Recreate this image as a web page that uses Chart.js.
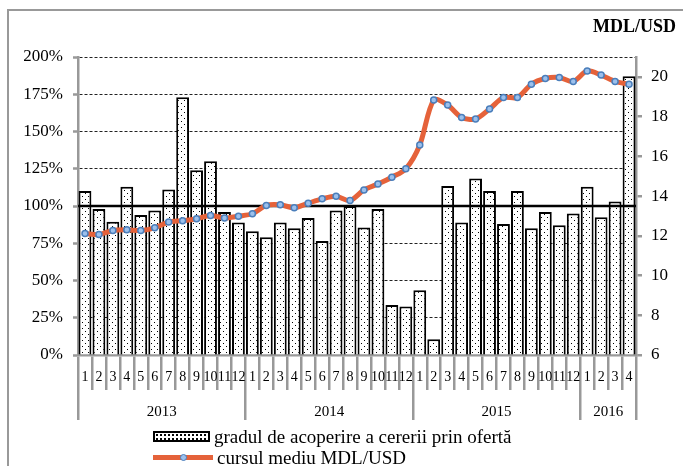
<!DOCTYPE html>
<html>
<head>
<meta charset="utf-8">
<script src="https://cdn.jsdelivr.net/npm/chart.js@4.4.0/dist/chart.umd.min.js"></script>
<style>
  html, body { margin: 0; padding: 0; background: #fff; }
  #wrap { position: relative; width: 683px; height: 466px; overflow: hidden; font-family: "Liberation Serif", serif; }
  #cadru { position: absolute; left: 7px; top: 9px; width: 720px; height: 520px; border-left: 2.5px solid #999; border-top: 2.5px solid #999; }
  #grafic { position: absolute; left: 0; top: 0; }
  #unitate { position: absolute; left: 593px; top: 16px; font-weight: bold; font-size: 18px; }
  #legenda { position: absolute; left: 153px; top: 426px; font-size: 19px; line-height: 21px; color: #000; }
  .rand { display: flex; align-items: center; white-space: nowrap; }
  .cutie { width: 53px; height: 7px; border: 2px solid #000; margin-right: 4px;
    background-color: #fff;
    background-image: radial-gradient(circle, #000 0.7px, transparent 1px);
    background-size: 4px 4px; }
  .linie { position: relative; width: 60px; height: 5px; background: #e5623a; margin-right: 4px; }
  .linie span { position: absolute; left: 27px; top: -1px; width: 5px; height: 5px; border-radius: 50%;
    background: #9cc0ec; border: 1px solid #4a7ebb; }
</style>
</head>
<body>
<div id="wrap">
  <div id="cadru"></div>
  <canvas id="grafic" width="683" height="466"></canvas>
  <div id="unitate">MDL/USD</div>
  <div id="legenda">
    <div class="rand"><div class="cutie"></div>gradul de acoperire a cererii prin ofertă</div>
    <div class="rand"><div class="linie"><span></span></div>cursul mediu MDL/USD</div>
  </div>
</div>
<script>
// date
const ani = ["2013", "2014", "2015", "2016"];
const luniPeAn = [12, 12, 12, 4];

const gradAcoperire = [
  110, 98, 89.5, 113, 94, 97, 111, 173, 124, 130, 96, 89,
  83, 79, 89, 85, 92, 76.5, 97, 100, 85.5, 98, 33.5, 32.5,
  43.5, 10.5, 113.5, 89, 118.5, 110, 88, 110, 85, 96, 87, 95,
  113, 92.5, 103, 187
];

const cursMediu = [
  12.11, 12.06, 12.27, 12.30, 12.27, 12.40, 12.69, 12.76, 12.86, 13.02, 12.90, 12.99,
  13.11, 13.53, 13.56, 13.41, 13.64, 13.86, 13.99, 13.78, 14.31, 14.61, 14.95, 15.37,
  16.57, 18.83, 18.58, 17.96, 17.88, 18.38, 18.96, 18.96, 19.63, 19.92, 19.97, 19.77,
  20.30, 20.09, 19.77, 19.63
];

// etichete luni si ani (anul sta la mijlocul lunilor lui)
const eticheteLuni = [];
const eticheteAni = [];
const inceputAn = [];
luniPeAn.forEach((n, a) => {
  inceputAn.push(eticheteLuni.length);
  for (let l = 1; l <= n; l++) {
    eticheteLuni.push(String(l));
    eticheteAni.push(l === n / 2 ? ani[a] : "");
  }
});

const GRI = "#999";
const FONT = '"Liberation Serif", serif';
Chart.defaults.font.family = FONT;
Chart.defaults.color = "#000";

const ctx = document.getElementById("grafic").getContext("2d");

// model cu puncte pentru bare
function modelPuncte() {
  const c = document.createElement("canvas");
  c.width = 6; c.height = 6;
  const g = c.getContext("2d");
  g.fillStyle = "#fff";
  g.fillRect(0, 0, 6, 6);
  g.fillStyle = "#000";
  g.fillRect(1, 1, 1, 1);
  g.fillRect(4, 4, 1, 1);
  return ctx.createPattern(c, "repeat");
}

// linia neagra de 100%, peste bare dar sub curs
const linie100 = {
  id: "linie100",
  afterDatasetDraw(chart, args) {
    if (args.index !== 0) return;
    const { ctx, chartArea, scales } = chart;
    const y = scales.y.getPixelForValue(100);
    ctx.save();
    ctx.strokeStyle = "#000";
    ctx.lineWidth = 2.5;
    ctx.beginPath();
    ctx.moveTo(chartArea.left, y);
    ctx.lineTo(chartArea.right, y);
    ctx.stroke();
    ctx.restore();
  }
};

new Chart(ctx, {
  data: {
    labels: eticheteLuni,
    datasets: [
      {
        type: "bar",
        label: "gradul de acoperire a cererii prin ofertă",
        data: gradAcoperire,
        xAxisID: "x",
        yAxisID: "y",
        backgroundColor: modelPuncte(),
        borderColor: "#000",
        borderWidth: 2,
        barPercentage: 0.92,
        categoryPercentage: 1,
        order: 2
      },
      {
        type: "line",
        label: "cursul mediu MDL/USD",
        data: cursMediu,
        xAxisID: "x",
        yAxisID: "y1",
        borderColor: "#e5623a",
        borderWidth: 5,
        tension: 0.3,
        pointRadius: 3,
        pointBackgroundColor: "#9cc0ec",
        pointBorderColor: "#4a7ebb",
        pointBorderWidth: 1.5,
        order: 1
      }
    ]
  },
  options: {
    responsive: false,
    animation: false,
    devicePixelRatio: 1,
    layout: { padding: { top: 57, bottom: 46, left: 0, right: 0 } },
    plugins: {
      legend: { display: false },
      tooltip: { enabled: false }
    },
    scales: {
      x: {
        type: "category",
        position: "bottom",
        offset: true,
        grid: { offset: true, drawOnChartArea: false, tickLength: 35, color: GRI, lineWidth: 2.5 },
        border: { color: GRI, width: 2.5 },
        ticks: { autoSkip: false, maxRotation: 0, padding: -21, font: { size: 14 } },
        afterFit: s => { s.height = 35; }
      },
      x2: {
        type: "category",
        position: "bottom",
        labels: eticheteAni,
        offset: true,
        grid: {
          offset: true,
          drawOnChartArea: false,
          tickLength: 30,
          lineWidth: 2.5,
          color: c => (c.index === undefined || inceputAn.includes(c.index)) ? GRI : "rgba(0,0,0,0)"
        },
        border: { display: false },
        ticks: { autoSkip: false, maxRotation: 0, labelOffset: 7, padding: -17, font: { size: 15 } },
        afterFit: s => { s.height = 30; }
      },
      y: {
        position: "left",
        min: 0,
        max: 200,
        ticks: { stepSize: 25, padding: 10, font: { size: 17 }, callback: v => v + "%" },
        grid: {
          color: c => c.tick && c.tick.value === 0 ? "rgba(0,0,0,0)" : "#222",
          lineWidth: 1,
          tickLength: 5,
          tickColor: GRI,
          tickWidth: 2.5
        },
        border: { color: GRI, width: 2.5, dash: [3, 2] },
        afterFit: s => { s.width = 78; }
      },
      y1: {
        position: "right",
        min: 6,
        max: 21,
        ticks: { stepSize: 2, padding: 9, font: { size: 17 } },
        afterBuildTicks: s => { s.ticks = s.ticks.filter(t => t.value % 2 === 0); },
        grid: { drawOnChartArea: false, tickLength: 6, color: GRI, lineWidth: 2.5 },
        border: { color: GRI, width: 2.5 },
        afterFit: s => { s.width = 47; }
      }
    }
  },
  plugins: [linie100]
});
</script>
</body>
</html>
